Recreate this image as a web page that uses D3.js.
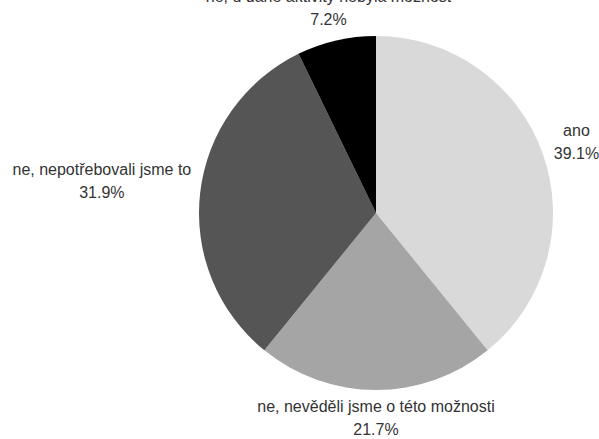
<!DOCTYPE html>
<html>
<head>
<meta charset="utf-8">
<script src="https://cdn.jsdelivr.net/npm/d3@7"></script>
<style>
  html, body { margin: 0; padding: 0; background: #fff; }
  svg { display: block; }
  text { font-family: "Liberation Sans", Arial, sans-serif; font-size: 16px; fill: #333; }
</style>
</head>
<body>
<svg id="chart" width="599" height="439"></svg>
<script>
const categories = [
  "ano",
  "ne, nevěděli jsme o této možnosti",
  "ne, nepotřebovali jsme to",
  "ne, u dané aktivity nebyla možnost"
];
const values = [39.1, 21.7, 31.9, 7.2];
const valueLabels = ["39.1%", "21.7%", "31.9%", "7.2%"];
const colors = ["#d9d9d9", "#a5a5a5", "#555555", "#000000"];

const W = 599, H = 439;
const cx = 376, cy = 213, r = 177;
const gap = 8;        // label distance from pie edge
const lineH = 23;

const svg = d3.select("#chart");
const g = svg.append("g").attr("transform", `translate(${cx},${cy})`);

const pie = d3.pie().sort(null).value(d => d.v);
const data = pie(categories.map((c, i) => ({ c, v: values[i], lbl: valueLabels[i], col: colors[i] })));
const arc = d3.arc().innerRadius(0).outerRadius(r);

g.selectAll("path.slice").data(data).enter().append("path")
  .attr("class", "slice")
  .attr("d", arc)
  .attr("fill", d => d.data.col);

// labels placed outside so the label box just clears a circle of radius r+gap
data.forEach(d => {
  const a = (d.startAngle + d.endAngle) / 2;
  const ux = Math.sin(a), uy = -Math.cos(a);
  const t = g.append("text").attr("text-anchor", "middle");
  t.append("tspan").attr("x", 0).attr("dy", 0).text(d.data.c);
  t.append("tspan").attr("x", 0).attr("dy", lineH).text(d.data.lbl);
  const bb = t.node().getBBox();
  const hw = bb.width / 2, hh = bb.height / 2;
  const target = r + gap;
  const distFor = (s) => {
    const px = ux * s, py = uy * s;
    const nx = Math.max(Math.abs(px) - hw, 0);
    const ny = Math.max(Math.abs(py) - hh, 0);
    return Math.hypot(nx, ny);
  };
  let lo = 0, hi = 600;
  for (let k = 0; k < 60; k++) {
    const mid = (lo + hi) / 2;
    if (distFor(mid) < target) lo = mid; else hi = mid;
  }
  const px = ux * hi, py = uy * hi;
  const bcx = bb.x + hw, bcy = bb.y + hh;
  t.attr("transform", `translate(${px - bcx},${py - bcy})`);
});
</script>
</body>
</html>
